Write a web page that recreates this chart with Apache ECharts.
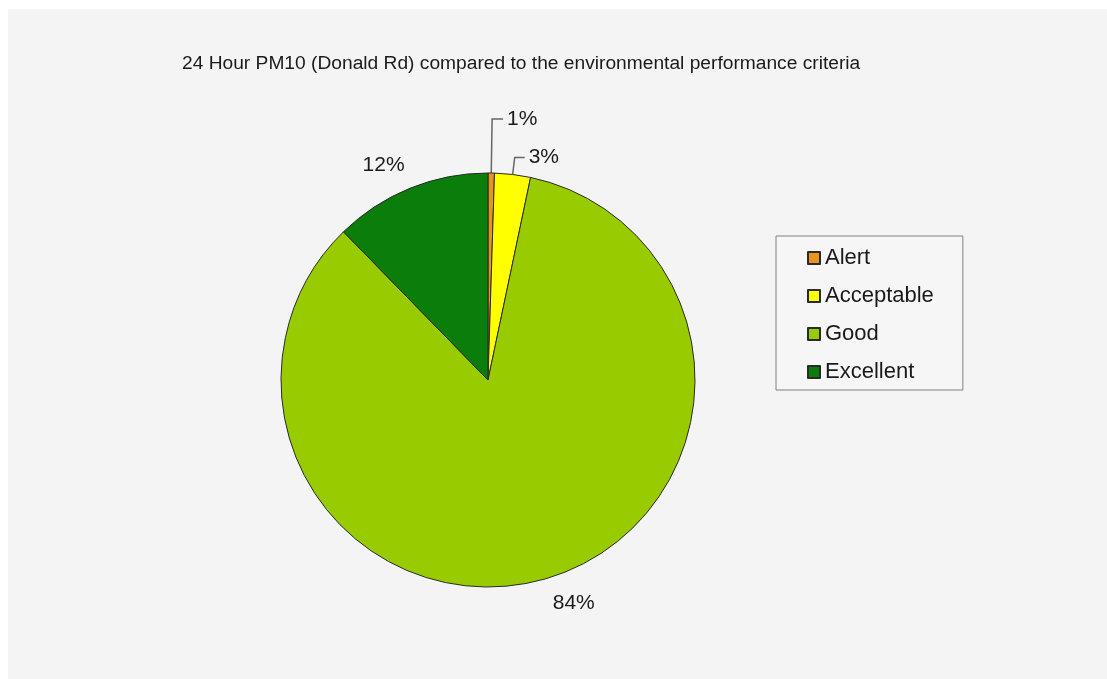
<!DOCTYPE html>
<html>
<head>
<meta charset="utf-8">
<script src="https://cdn.jsdelivr.net/npm/echarts@6/dist/echarts.min.js"></script>
<style>
  html, body { margin: 0; padding: 0; background: #fff; }
  #chart { position: absolute; left: 8px; top: 9px; width: 1099px; height: 670px; }
</style>
</head>
<body>
<div id="chart"></div>
<script>
// 24 hour PM10 share per category (%)
const categories = ["Alert", "Acceptable", "Good", "Excellent"];
const shares = [0.5, 2.8, 84.4, 12.3];
const colors = ["#e8951c", "#ffff00", "#99cc00", "#0a7d0a"];
// label leader settings per slice (only the two thin slices show a line)
const showLine = [true, true, false, false];
const lineLen = [54, 17, 25, 25];
const lineLen2 = [11, 10, 0, -4];

const chart = echarts.init(document.getElementById("chart"));

const pieData = categories.map((name, i) => ({
  name: name,
  value: shares[i],
  itemStyle: { color: colors[i] },
  labelLine: { show: showLine[i], length: lineLen[i], length2: lineLen2[i] },
  label: { distanceToLabelLine: showLine[i] ? 4 : 0 },
}));

const option = {
  backgroundColor: "#f4f4f4",
  animation: false,
  title: {
    text: "24 Hour PM10 (Donald Rd) compared to the environmental performance criteria",
    left: 174,
    top: 45,
    padding: 0,
    textStyle: {
      fontFamily: "Liberation Sans, Arial, sans-serif",
      fontSize: 19.2,
      fontWeight: "normal",
      color: "#1a1a1a",
    },
  },
  legend: {
    orient: "vertical",
    left: 768,
    top: 227,
    padding: [11, 29, 7, 31],
    itemWidth: 12,
    itemHeight: 12,
    itemGap: 16,
    icon: "rect",
    borderColor: "#808080",
    borderWidth: 1,
    backgroundColor: "#f6f6f6",
    textStyle: {
      fontFamily: "Liberation Sans, Arial, sans-serif",
      fontSize: 22,
      lineHeight: 22,
      color: "#1a1a1a",
    },
    data: categories,
  },
  series: [
    {
      type: "pie",
      center: [480, 371],
      radius: 207,
      startAngle: 90,
      clockwise: true,
      avoidLabelOverlap: false,
      data: pieData,
      itemStyle: { borderColor: "#2a2a2a", borderWidth: 1 },
      emphasis: { disabled: true },
      label: {
        position: "outside",
        formatter: (p) => Math.round(p.value) + "%",
        fontFamily: "Liberation Sans, Arial, sans-serif",
        fontSize: 21,
        color: "#1a1a1a",
      },
      labelLine: {
        lineStyle: { color: "#666", width: 1.5 },
      },
    },
  ],
};

chart.setOption(option);
</script>
</body>
</html>
